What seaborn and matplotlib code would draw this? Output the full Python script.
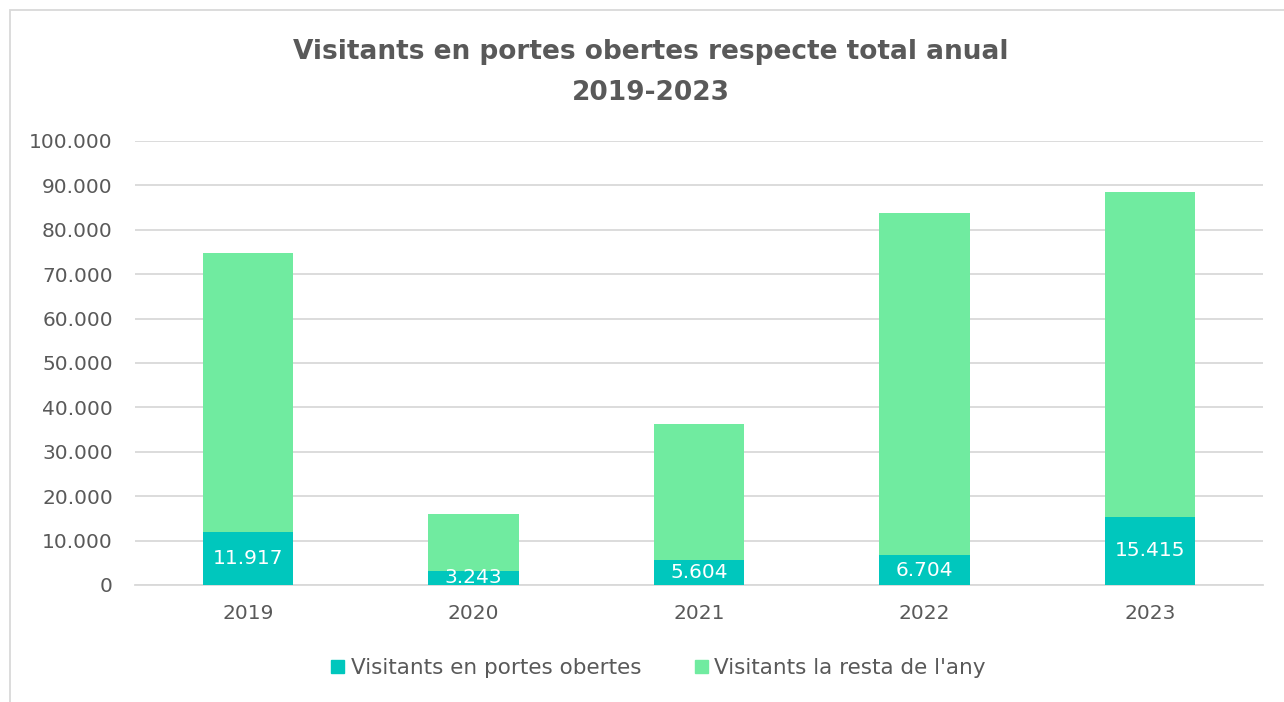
import matplotlib
matplotlib.use("Agg")
import matplotlib.pyplot as plt
from matplotlib.patches import Rectangle, Patch
import pandas as pd
import seaborn as sns

## values
years = ['2019', '2020', '2021', '2022', '2023']
portesObertes = [11917, 3243, 5604, 6704, 15415]
restaAny = [62950, 12860, 30600, 77000, 73060]

tealColor = '#00C7BD'
greenColor = '#70EBA0'
greyText = '#595959'

df = pd.DataFrame({'year': years, 'portes': portesObertes, 'resta': restaAny})
df['total'] = df['portes'] + df['resta']

sns.set_theme(style='white')
plt.rcParams['font.family'] = ['DejaVu Sans']

fig = plt.figure(figsize=(12.84, 7.02), dpi=100)
ax = fig.add_axes([135 / 1284, 1 - 585 / 702, 1128 / 1284, 444 / 702])

## total first (green), then the open-doors part over it (teal)
sns.barplot(data=df, x='year', y='total', color=greenColor, width=0.40,
            saturation=1, linewidth=0, ax=ax, zorder=2)
sns.barplot(data=df, x='year', y='portes', color=tealColor, width=0.40,
            saturation=1, linewidth=0, ax=ax, zorder=3)

ax.set_ylim(0, 100000)
ax.set_yticks(range(0, 100001, 10000))
ax.set_yticklabels([f'{v:,}'.replace(',', '.') for v in range(0, 100001, 10000)])
ax.set_xlabel('')
ax.set_ylabel('')
ax.tick_params(axis='both', length=0, labelsize=14.5, colors=greyText)
ax.tick_params(axis='y', pad=16)
ax.tick_params(axis='x', pad=14)
ax.yaxis.grid(True, color='#D9D9D9', linewidth=1.3, zorder=0)
ax.set_axisbelow(True)
for side in ['top', 'right', 'left']:
    ax.spines[side].set_visible(False)
ax.spines['bottom'].set_color('#D9D9D9')
ax.spines['bottom'].set_linewidth(1.3)

## data labels in the teal segments
for i, v in enumerate(portesObertes):
    t = ax.text(i, v / 2, f'{v:,}'.replace(',', '.'), ha='center', va='center',
                color='white', fontsize=14.5, zorder=5)
    t.set_clip_on(True)

fig.text(0.507, 1 - 52 / 702, 'Visitants en portes obertes respecte total anual',
         ha='center', va='center', fontsize=19, fontweight='bold', color=greyText)
fig.text(0.507, 1 - 93 / 702, '2019-2023',
         ha='center', va='center', fontsize=19, fontweight='bold', color=greyText)

handles = [Patch(color=tealColor, label='Visitants en portes obertes'),
           Patch(color=greenColor, label="Visitants la resta de l'any")]
fig.legend(handles=handles, loc='center', bbox_to_anchor=(0.513, 1 - 668 / 702),
           ncol=2, frameon=False, fontsize=15.5, labelcolor=greyText,
           handlelength=0.6, handleheight=0.6, handletextpad=0.3, columnspacing=2.5)

## chart border
fig.patches.append(Rectangle((10 / 1284, -0.05), 1.1, 1 - 10 / 702 + 0.05,
                             transform=fig.transFigure, fill=False,
                             edgecolor='#D9D9D9', linewidth=1.3))

fig.savefig('out.png', dpi=100)
